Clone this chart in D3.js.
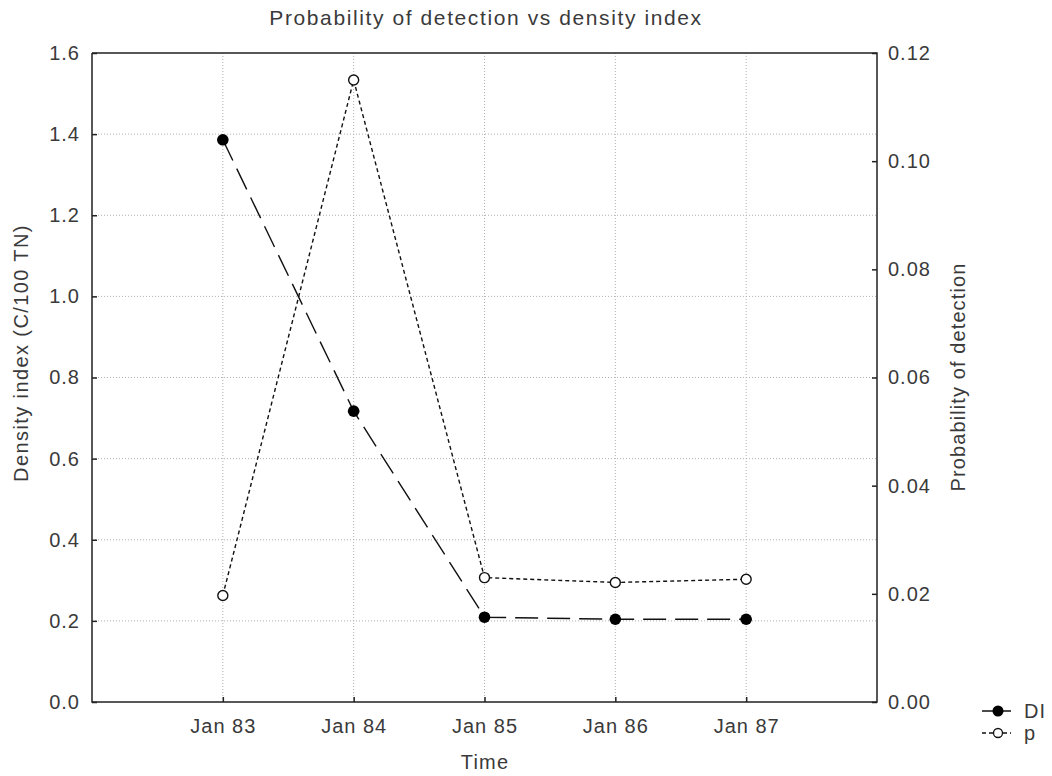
<!DOCTYPE html>
<html>
<head>
<meta charset="utf-8">
<script src="https://cdn.jsdelivr.net/npm/d3@7"></script>
<style>
  body { margin: 0; background: #fff; }
  svg { display: block; font-family: "Liberation Sans", Arial, sans-serif; }
</style>
</head>
<body>
<svg id="chart" width="1052" height="776"></svg>
<script>
// Survey dates and the two measured series
const categories = ["Jan 83", "Jan 84", "Jan 85", "Jan 86", "Jan 87"];
const densityIndex = [1.386, 0.717, 0.209, 0.204, 0.204];
const detectionProb = [0.0197, 0.1150, 0.0230, 0.0221, 0.0227];
const leftTicks = [0.0, 0.2, 0.4, 0.6, 0.8, 1.0, 1.2, 1.4, 1.6];
const rightTicks = [0.00, 0.02, 0.04, 0.06, 0.08, 0.10, 0.12];

const svg = d3.select("#chart");
const m = { left: 92, right: 877, top: 53, bottom: 702 };
const ink = "#222";
const textInk = "#3a3a3a";

// Categories sit at positions 1..5 on a 0..6 band
const x = d3.scaleLinear().domain([0, categories.length + 1]).range([m.left, m.right]);
const yL = d3.scaleLinear().domain([0, 1.6]).range([m.bottom, m.top]);
const yR = d3.scaleLinear().domain([0, 0.12]).range([m.bottom, m.top]);

const gridColor = "#b0b0b0";
const g = svg.append("g");

// Dotted grid
g.selectAll("line.hgrid").data(leftTicks.slice(1, -1)).join("line")
  .attr("x1", m.left).attr("x2", m.right)
  .attr("y1", d => yL(d)).attr("y2", d => yL(d))
  .attr("stroke", gridColor).attr("stroke-width", 1).attr("stroke-dasharray", "1,2");
g.selectAll("line.vgrid").data(categories).join("line")
  .attr("x1", (d, i) => x(i + 1)).attr("x2", (d, i) => x(i + 1))
  .attr("y1", m.top).attr("y2", m.bottom)
  .attr("stroke", gridColor).attr("stroke-width", 1).attr("stroke-dasharray", "1,2");

// Frame: left, bottom, right axes and top line
g.append("path")
  .attr("d", `M${m.left},${m.top}V${m.bottom}H${m.right}V${m.top}H${m.left}`)
  .attr("fill", "none").attr("stroke", ink).attr("stroke-width", 1.5);

// Axes with inward ticks
const axL = d3.axisLeft(yL).tickValues(leftTicks).tickFormat(d3.format(".1f")).tickSizeInner(-5).tickSizeOuter(0).tickPadding(12);
const axR = d3.axisRight(yR).tickValues(rightTicks).tickFormat(d3.format(".2f")).tickSizeInner(-5).tickSizeOuter(0).tickPadding(11);
const axB = d3.axisBottom(x).tickValues(categories.map((d, i) => i + 1)).tickFormat((d) => categories[d - 1]).tickSizeInner(-5).tickSizeOuter(0).tickPadding(17);

function styleAxis(sel) {
  sel.select(".domain").remove();
  sel.selectAll(".tick line").attr("stroke", ink).attr("stroke-width", 1.5);
  sel.selectAll(".tick text").attr("fill", textInk).style("font-size", "20px").style("letter-spacing", "1px");
}
svg.append("g").attr("transform", `translate(${m.left},0)`).call(axL).call(styleAxis);
svg.append("g").attr("transform", `translate(${m.right},0)`).call(axR).call(styleAxis);
svg.append("g").attr("transform", `translate(0,${m.bottom})`).call(axB).call(styleAxis);

// Titles
svg.append("text").attr("x", 486).attr("y", 25).attr("text-anchor", "middle")
  .attr("fill", textInk).style("font-size", "21px").style("letter-spacing", "1.6px")
  .text("Probability of detection vs density index");
svg.append("text").attr("x", 485).attr("y", 769).attr("text-anchor", "middle")
  .attr("fill", textInk).style("font-size", "20px").style("letter-spacing", "1.2px").text("Time");
svg.append("text").attr("transform", "translate(28,353) rotate(-90)").attr("text-anchor", "middle")
  .attr("fill", textInk).style("font-size", "20px").style("letter-spacing", "1.4px").text("Density index (C/100 TN)");
svg.append("text").attr("transform", "translate(965,377) rotate(-90)").attr("text-anchor", "middle")
  .attr("fill", textInk).style("font-size", "20px").style("letter-spacing", "1.1px").text("Probability of detection");

// Series lines
const lineL = d3.line().x((d, i) => x(i + 1)).y(d => yL(d));
const lineR = d3.line().x((d, i) => x(i + 1)).y(d => yR(d));

svg.append("path").datum(detectionProb).attr("d", lineR)
  .attr("fill", "none").attr("stroke", "#111").attr("stroke-width", 1.4).attr("stroke-dasharray", "4,3");
svg.append("path").datum(densityIndex).attr("d", lineL)
  .attr("fill", "none").attr("stroke", "#111").attr("stroke-width", 1.4).attr("stroke-dasharray", "23,9");

svg.selectAll("circle.p").data(detectionProb).join("circle")
  .attr("cx", (d, i) => x(i + 1)).attr("cy", d => yR(d)).attr("r", 5)
  .attr("fill", "#fff").attr("stroke", "#111").attr("stroke-width", 1.4);
svg.selectAll("circle.di").data(densityIndex).join("circle")
  .attr("cx", (d, i) => x(i + 1)).attr("cy", d => yL(d)).attr("r", 5.8)
  .attr("fill", "#000");

// Legend
const leg = svg.append("g").attr("transform", "translate(982,711)");
leg.append("line").attr("x1", 0).attr("x2", 29).attr("y1", 0).attr("y2", 0).attr("stroke", "#111").attr("stroke-width", 1.5);
leg.append("circle").attr("cx", 16).attr("cy", 0).attr("r", 5.5).attr("fill", "#000");
leg.append("text").attr("x", 42).attr("y", 7).attr("fill", textInk).style("font-size", "20px").style("letter-spacing", "1px").text("DI");
leg.append("line").attr("x1", 0).attr("x2", 29).attr("y1", 22).attr("y2", 22).attr("stroke", "#111").attr("stroke-width", 1.4).attr("stroke-dasharray", "4,3");
leg.append("circle").attr("cx", 16).attr("cy", 22).attr("r", 4.5).attr("fill", "#fff").attr("stroke", "#111").attr("stroke-width", 1.3);
leg.append("text").attr("x", 42).attr("y", 29).attr("fill", textInk).style("font-size", "20px").style("letter-spacing", "1px").text("p");
</script>
</body>
</html>
